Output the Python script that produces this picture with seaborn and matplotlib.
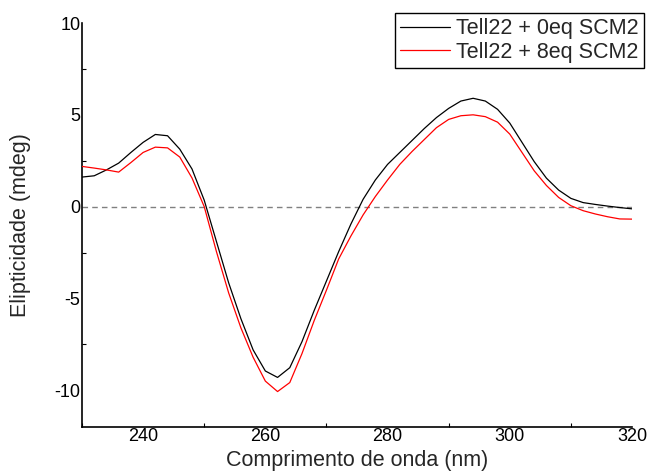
import numpy as np
import pandas as pd
import matplotlib
matplotlib.use("Agg")
import matplotlib.pyplot as plt
import seaborn as sns
from matplotlib.ticker import MultipleLocator
from matplotlib.lines import Line2D

wavelength = list(range(230, 321, 2))
cd_0eq = [1.61, 1.68, 2.0, 2.37, 2.95, 3.5, 3.93, 3.86, 3.13, 2.05, 0.35,
          -1.9, -4.15, -6.1, -7.8, -8.95, -9.3, -8.77, -7.35, -5.65, -4.05,
          -2.45, -0.95, 0.4, 1.45, 2.3, 2.95, 3.6, 4.25, 4.85, 5.35, 5.75,
          5.9, 5.75, 5.3, 4.55, 3.5, 2.45, 1.55, 0.9, 0.45, 0.22, 0.12, 0.03,
          -0.05, -0.12]
cd_8eq = [2.19, 2.1, 2.0, 1.88, 2.4, 2.95, 3.24, 3.2, 2.7, 1.56, 0.0,
          -2.45, -4.7, -6.6, -8.2, -9.5, -10.07, -9.58, -8.0, -6.2, -4.55,
          -2.85, -1.6, -0.45, 0.55, 1.45, 2.3, 3.0, 3.65, 4.3, 4.75, 4.95,
          5.0, 4.9, 4.6, 3.95, 2.95, 1.95, 1.15, 0.5, 0.05, -0.22, -0.4, -0.55,
          -0.67, -0.68]
series_labels = ["Tell22 + 0eq SCM2", "Tell22 + 8eq SCM2"]
x_ticks = [240, 260, 280, 300, 320]
y_ticks = [-10, -5, 0, 5, 10]

df = pd.concat([
    pd.DataFrame({"wl": wavelength, "cd": cd_0eq, "s": series_labels[0]}),
    pd.DataFrame({"wl": wavelength, "cd": cd_8eq, "s": series_labels[1]}),
])

sns.set_style("white")
plt.rcParams["font.family"] = ["Liberation Sans", "DejaVu Sans"]

fig = plt.figure(figsize=(6.49, 4.73), dpi=100)
ax = fig.add_axes([82/649, 46/473, 550/649, 404/473])

ax.axhline(0, color="#808080", lw=1.0, ls=(0, (4, 3)), zorder=1)
sns.lineplot(data=df, x="wl", y="cd", hue="s", palette=["black", "red"],
             lw=0.9, ax=ax, legend=False, sort=False, zorder=3)

ax.set_xlim(230, 320)
ax.set_ylim(-12, 10)
ax.set_xticks(x_ticks)
ax.set_xticklabels([str(t) for t in x_ticks])
ax.set_yticks(y_ticks)
ax.set_yticklabels([str(t) for t in y_ticks])
ax.xaxis.set_minor_locator(MultipleLocator(10))
ax.yaxis.set_minor_locator(MultipleLocator(2.5))
ax.tick_params(which="major", length=0, labelsize=13, pad=1, colors="black")
ax.tick_params(which="minor", direction="in", length=3, width=0.8, color="black",
               bottom=True, left=True)

for side in ["top", "right"]:
    ax.spines[side].set_visible(False)
for side in ["left", "bottom"]:
    ax.spines[side].set_color("black")
    ax.spines[side].set_linewidth(1.2)

ax.set_xlabel("Comprimento de onda (nm)", fontsize=15.5, labelpad=3)
ax.set_ylabel("Elipticidade (mdeg)", fontsize=15.5, labelpad=17)

handles = [Line2D([], [], color="black", lw=0.9), Line2D([], [], color="red", lw=0.9)]
leg = fig.legend(handles, series_labels, loc="upper left",
                 bbox_to_anchor=(395/649, 1 - 13/473), fontsize=15.5,
                 frameon=True, fancybox=False, edgecolor="black", framealpha=1,
                 borderpad=0.25, labelspacing=0.12, handlelength=2.3,
                 handletextpad=0.3, borderaxespad=0)
leg.get_frame().set_linewidth(1.0)

ax.set_facecolor("white")
fig.savefig("out.png", dpi=100, facecolor="white")
